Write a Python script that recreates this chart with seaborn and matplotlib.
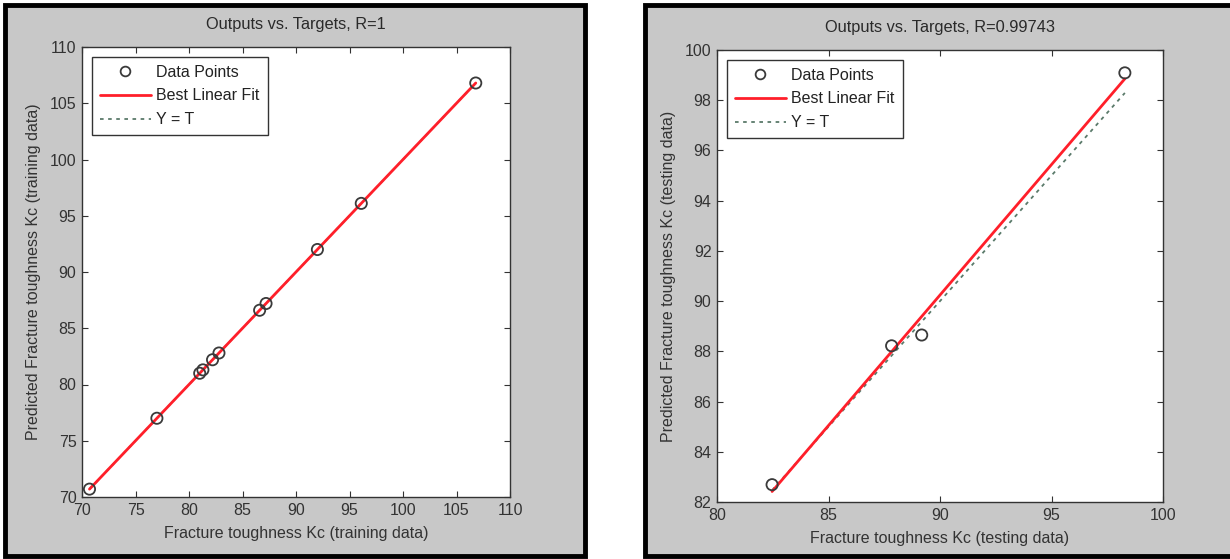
import numpy as np
import pandas as pd
import matplotlib
matplotlib.use("Agg")
import matplotlib.pyplot as plt
import seaborn as sns
from matplotlib.patches import Rectangle
from matplotlib.lines import Line2D

# ---- data ----
train_targets = [70.7, 77.0, 81.0, 81.3, 82.2, 82.8, 86.6, 87.2, 92.0, 96.1, 106.8]
train_outputs = [70.7, 77.0, 81.0, 81.3, 82.2, 82.8, 86.6, 87.2, 92.0, 96.1, 106.8]
test_targets = [82.47, 87.83, 89.18, 98.29]
test_outputs = [82.69, 88.22, 88.65, 99.09]

train_ticks = [70, 75, 80, 85, 90, 95, 100, 105, 110]
test_xticks = [80, 85, 90, 95, 100]
test_yticks = [82, 84, 86, 88, 90, 92, 94, 96, 98, 100]

train_title = "Outputs vs. Targets, R=1"
test_title = "Outputs vs. Targets, R=0.99743"
legend_labels = ["Data Points", "Best Linear Fit", "Y = T"]

sns.set_theme(style="ticks")
plt.rcParams['font.family'] = ['Liberation Sans', 'DejaVu Sans']
plt.rcParams.update({
    'xtick.direction': 'in', 'ytick.direction': 'in',
    'xtick.top': True, 'ytick.right': True,
    'xtick.major.size': 4, 'ytick.major.size': 4,
    'xtick.major.width': 0.8, 'ytick.major.width': 0.8,
    'xtick.color': '#333333', 'ytick.color': '#333333',
    'xtick.labelcolor': '#333333', 'ytick.labelcolor': '#333333',
    'axes.edgecolor': '#333333', 'axes.linewidth': 1.0,
    'font.size': 11,
})

W, H = 1230, 559
fig = plt.figure(figsize=(12.3, 5.59), dpi=100)
fig.patch.set_facecolor('white')

GRAY = '#c8c8c8'
for x0, x1 in [(5, 585), (645, 1233)]:
    fig.patches.append(Rectangle((x0 / W, 3 / H), (x1 - x0) / W, (554 - 3) / H,
                                 transform=fig.transFigure, facecolor=GRAY,
                                 edgecolor='black', lw=3.5, zorder=-5))

RED = '#ff1f2a'
YT = '#5a7a6a'
PT = '#3a3a3a'


def panel(ax, t, o, xticks, yticks, title, xlabel, ylabel):
    df = pd.DataFrame({'Target': t, 'Output': o})
    ident = pd.DataFrame({'T': [min(t), max(t)]})
    sns.lineplot(data=ident, x='T', y='T', ax=ax, color=YT, linestyle=(0, (2, 2.5)),
                 lw=1.3, zorder=2)
    sns.regplot(data=df, x='Target', y='Output', ax=ax, scatter=False, ci=None,
                truncate=True, line_kws=dict(color=RED, lw=2.0, zorder=3))
    sns.scatterplot(data=df, x='Target', y='Output', ax=ax, marker='o', s=65,
                    facecolor='none', edgecolor=PT, linewidth=1.3, zorder=4)
    ax.set_xlim(xticks[0], xticks[-1])
    ax.set_ylim(yticks[0], yticks[-1])
    ax.set_xticks(xticks)
    ax.set_yticks(yticks)
    ax.set_title(title, fontsize=11.8, color='#2a2a2a', pad=13)
    ax.set_xlabel(xlabel, fontsize=11.5, color='#333333', labelpad=6)
    ax.set_ylabel(ylabel, fontsize=11.5, color='#333333', labelpad=6)
    ax.tick_params(labelsize=11.5, pad=4)
    ax.set_facecolor('white')
    handles = [
        Line2D([], [], marker='o', ls='none', mfc='none', mec=PT, mew=1.3, ms=7),
        Line2D([], [], color=RED, lw=2.0),
        Line2D([], [], color=YT, ls=(0, (2, 2.5)), lw=1.3),
    ]
    leg = ax.legend(handles, legend_labels, loc='upper left', frameon=True,
                    fancybox=False, framealpha=1, edgecolor='#333333',
                    fontsize=11.5, handlelength=3.2, handletextpad=0.35,
                    labelspacing=0.55, borderpad=0.5, borderaxespad=0.6)
    leg.get_frame().set_linewidth(1.0)
    for txt in leg.get_texts():
        txt.set_color('#222222')


ax1 = fig.add_axes([82 / W, (H - 497) / H, 428 / W, 450 / H])
ax2 = fig.add_axes([717 / W, (H - 502) / H, 446 / W, 452 / H])

panel(ax1, train_targets, train_outputs, train_ticks, train_ticks, train_title,
      "Fracture toughness Kc (training data)",
      "Predicted Fracture toughness Kc (training data)")
panel(ax2, test_targets, test_outputs, test_xticks, test_yticks, test_title,
      "Fracture toughness Kc (testing data)",
      "Predicted Fracture toughness Kc (testing data)")

fig.savefig("out.png", dpi=100)
